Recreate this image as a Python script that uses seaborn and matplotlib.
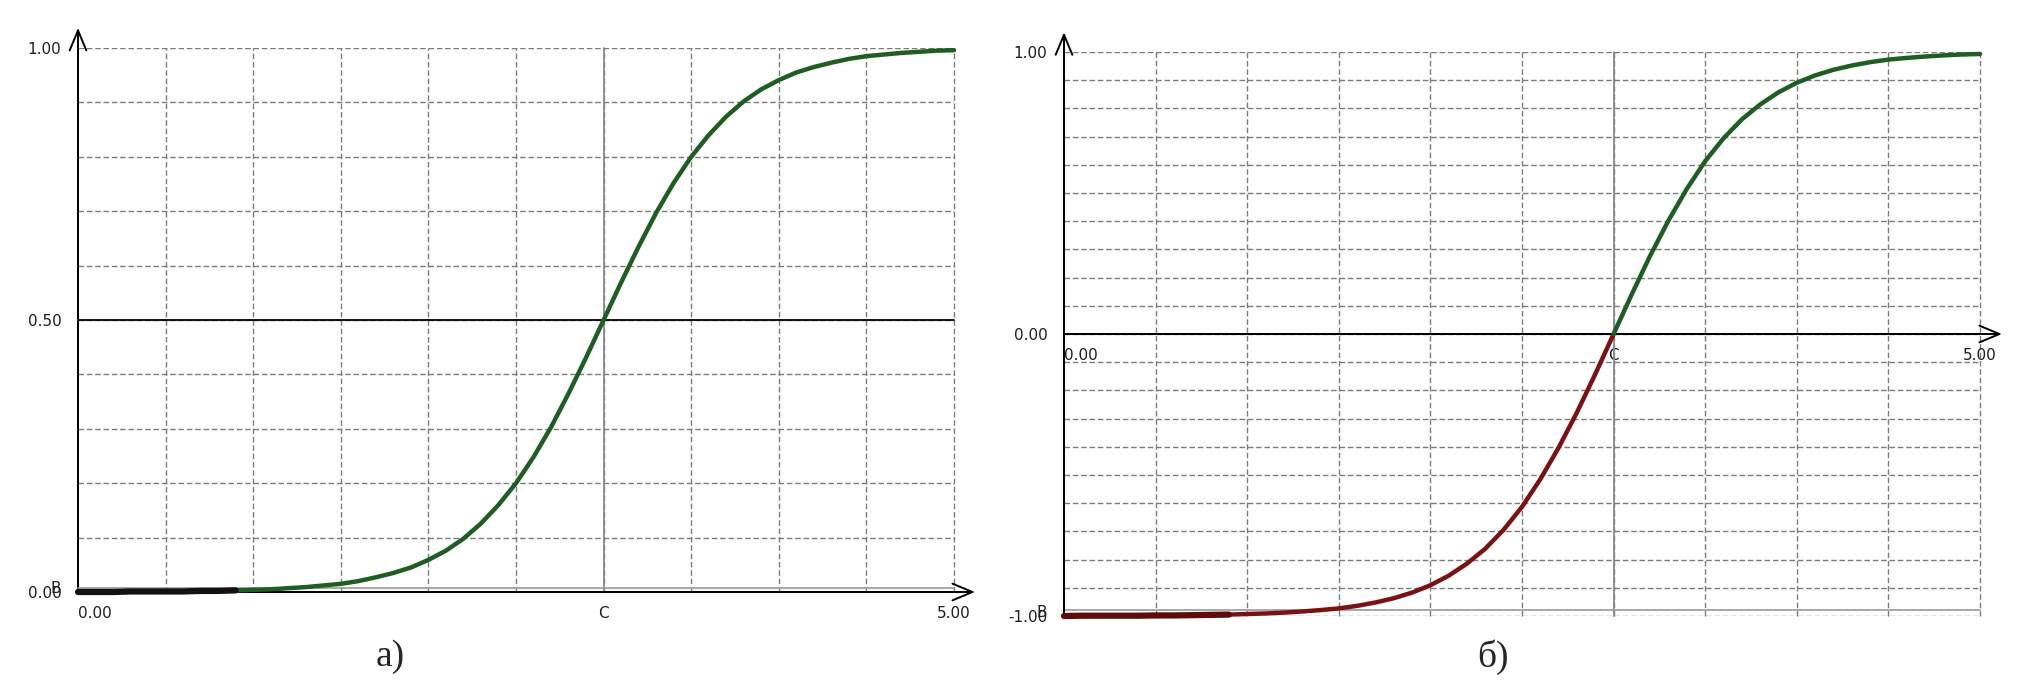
import matplotlib
matplotlib.use('Agg')
import matplotlib.pyplot as plt
from matplotlib.ticker import MultipleLocator
import pandas as pd
import seaborn as sns

# значения (шаг по x = 0.1)
x_vals = [0.0, 0.1, 0.2, 0.3, 0.4, 0.5, 0.6, 0.7, 0.8, 0.9,
          1.0, 1.1, 1.2, 1.3, 1.4, 1.5, 1.6, 1.7, 1.8, 1.9,
          2.0, 2.1, 2.2, 2.3, 2.4, 2.5, 2.6, 2.7, 2.8, 2.9,
          3.0, 3.1, 3.2, 3.3, 3.4, 3.5, 3.6, 3.7, 3.8, 3.9,
          4.0, 4.1, 4.2, 4.3, 4.4, 4.5, 4.6, 4.7, 4.8, 4.9, 5.0]

# а) кривая от 0 до 1
y_a = [0.000, 0.000, 0.000, 0.001, 0.001, 0.001, 0.001, 0.002, 0.002, 0.003,
       0.004, 0.005, 0.007, 0.009, 0.012, 0.015, 0.020, 0.027, 0.035, 0.045,
       0.059, 0.076, 0.098, 0.126, 0.160, 0.200, 0.248, 0.303, 0.365, 0.431,
       0.500, 0.569, 0.635, 0.697, 0.752, 0.800, 0.840, 0.874, 0.902, 0.924,
       0.941, 0.955, 0.965, 0.973, 0.980, 0.985, 0.988, 0.991, 0.993, 0.995, 0.996]

# б) кривая от -1 до 1
y_b = [-1.000, -0.999, -0.999, -0.999, -0.999, -0.998, -0.998, -0.997, -0.996, -0.995,
       -0.993, -0.991, -0.988, -0.984, -0.979, -0.973, -0.964, -0.952, -0.937, -0.917,
       -0.891, -0.857, -0.814, -0.761, -0.694, -0.613, -0.515, -0.403, -0.278, -0.142,
       0.000, 0.142, 0.278, 0.403, 0.515, 0.613, 0.694, 0.761, 0.814, 0.857,
       0.891, 0.917, 0.937, 0.952, 0.964, 0.973, 0.979, 0.984, 0.988, 0.991, 0.993]

x_tick_labels = ['0.00', 'C', '5.00']
y_ticks_a = [0.0, 0.5, 1.0]
y_labels_a = ['0.00', '0.50', '1.00']
y_ticks_b = [-1.0, 0.0, 1.0]
y_labels_b = ['-1.00', '0.00', '1.00']
c_pos = 3.0

df = pd.DataFrame({'x': x_vals, 'a': y_a, 'b': y_b})

GREEN = '#1f5e22'
RED = '#7a1214'
GRID = '#7c7c7c'
TXT = '#1e1e1e'

sns.set_theme(style='white')
plt.rcParams['font.family'] = ['DejaVu Sans']

W, H = 2036, 693
fig = plt.figure(figsize=(W / 100, H / 100), dpi=100)
fig.patch.set_facecolor('white')

ax_a = fig.add_axes([78 / W, (H - 592) / H, 876 / W, 544 / H])
ax_b = fig.add_axes([1064 / W, (H - 616) / H, 916 / W, 564 / H])


def setup(ax, ymin, ymax, yticks, ylabels, ytop):
    ax.set_xlim(0, 5)
    ax.set_ylim(ymin, ymax)
    ax.set_facecolor('white')
    for s in ['top', 'right']:
        ax.spines[s].set_visible(False)
    ax.spines['left'].set_position(('data', 0))
    ax.spines['bottom'].set_position(('data', 0))
    for s in ['left', 'bottom']:
        ax.spines[s].set_color('black')
        ax.spines[s].set_linewidth(1.4)
    ax.yaxis.set_minor_locator(MultipleLocator(0.1))
    ax.grid(which='both', axis='y', color=GRID, ls=(0, (4, 2)), lw=1.0)
    ax.set_axisbelow(True)

    # подписи осей
    ax.set_xticks([0.0, c_pos, 5.0])
    ax.set_xticklabels(x_tick_labels)
    ax.get_xticklabels()[0].set_ha('left')
    ax.set_yticks(yticks)
    ax.set_yticklabels(ylabels)
    ax.tick_params(axis='both', which='both', length=0, labelsize=11, labelcolor=TXT)
    ax.tick_params(axis='x', pad=10)
    ax.tick_params(axis='y', pad=12)

    # вертикальная сетка через 0.5
    for xv in [0.5 * i for i in range(1, 11)]:
        ax.axvline(xv, color=GRID, ls=(0, (4, 2)), lw=1.0, zorder=0.5)
    ax.axvline(c_pos, color='#8a8a8a', lw=1.3, zorder=1)

    # стрелки осей
    arrow = dict(arrowstyle='->,head_length=1.2,head_width=0.5', color='black',
                 lw=1.4, shrinkA=0, shrinkB=0)
    ax.annotate('', xy=(0, ytop), xytext=(0, ymin), arrowprops=arrow,
                annotation_clip=False)
    ax.annotate('', xy=(5.12, 0), xytext=(0, 0), arrowprops=arrow,
                annotation_clip=False)
    # метка B у начала кривой (в оригинале наложена на подпись)
    ax.annotate('B', xy=(0, ymin), xytext=(-12, 2.5), textcoords='offset points',
                ha='right', va='center', fontsize=11, color=TXT,
                annotation_clip=False)


setup(ax_a, 0.0, 1.0, y_ticks_a, y_labels_a, 1.037)
setup(ax_b, -1.0, 1.0, y_ticks_b, y_labels_b, 1.07)

start = df['x'] <= 0.9

# а)
ax_a.axhline(0.5, color='black', lw=1.3, zorder=1)
ax_a.axhline(0.008, color='#9a9a9a', lw=1.2, zorder=1)
sns.lineplot(data=df, x='x', y='a', ax=ax_a, color=GREEN, lw=3.2,
             estimator=None, sort=False)
sns.lineplot(data=df[start], x='x', y='a', ax=ax_a, color='#111111',
             lw=4.5, estimator=None, sort=False)

# б)
ax_b.axhline(-0.98, color='#9a9a9a', lw=1.2, zorder=1)
sns.lineplot(data=df[df['x'] <= c_pos], x='x', y='b', ax=ax_b, color=RED, lw=3.2,
             estimator=None, sort=False)
sns.lineplot(data=df[df['x'] >= c_pos], x='x', y='b', ax=ax_b, color=GREEN, lw=3.2,
             estimator=None, sort=False)
sns.lineplot(data=df[start], x='x', y='b', ax=ax_b, color='#5e0b0b',
             lw=4.5, estimator=None, sort=False)

for ax in [ax_a, ax_b]:
    ax.set_xlabel('')
    ax.set_ylabel('')
    for ln in ax.get_lines():
        ln.set_clip_on(False)
    for ln in ax.get_lines()[-3:]:
        ln.set_zorder(3)

fig.text(390 / W, 1 - 657 / H, 'а)', ha='center', va='center',
         fontsize=27, family=['Liberation Serif', 'DejaVu Serif'])
fig.text(1493 / W, 1 - 657 / H, 'б)', ha='center', va='center',
         fontsize=27, family=['Liberation Serif', 'DejaVu Serif'])

fig.savefig('out.png', dpi=100, facecolor='white')
